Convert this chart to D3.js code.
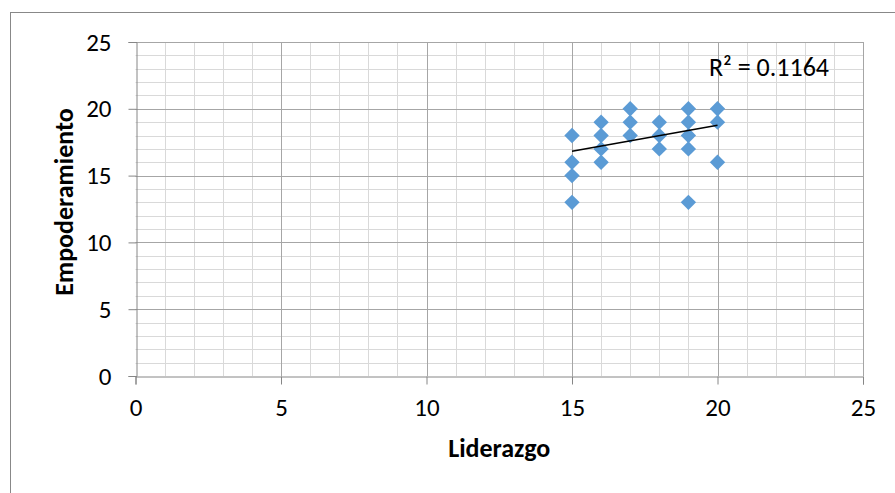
<!DOCTYPE html>
<html>
<head>
<meta charset="utf-8">
<script src="https://cdn.jsdelivr.net/npm/d3@7"></script>
<style>
  body { margin: 0; background: #fff; }
  svg text { font-family: Carlito, "Open Sans", "Liberation Sans", sans-serif; fill: #000; }
</style>
</head>
<body>
<div id="chart"></div>
<script>
// Liderazgo (x) vs Empoderamiento (y)
const liderazgo      = [15, 15, 15, 15, 16, 16, 16, 16, 17, 17, 17, 18, 18, 18, 19, 19, 19, 19, 19, 20, 20, 20];
const empoderamiento = [18, 16, 15, 13, 19, 18, 17, 16, 20, 19, 18, 19, 18, 17, 20, 19, 18, 17, 13, 20, 19, 16];
const trendX = [15, 20];
const trendY = [16.82, 18.77];
const tickValues = [0, 5, 10, 15, 20, 25];
const r2Label = "R² = 0.1164";

const width = 895, height = 493;
const margin = { top: 42, right: 32, bottom: 117, left: 135.5 };

const svg = d3.select("#chart").append("svg")
    .attr("width", width)
    .attr("height", height);

// outer chart border
svg.append("rect")
    .attr("x", 10.5).attr("y", 12.5)
    .attr("width", width + 20).attr("height", height + 20)
    .attr("fill", "none").attr("stroke", "#888").attr("stroke-width", 1);

const x = d3.scaleLinear().domain([0, 25]).range([margin.left, width - margin.right]);
const y = d3.scaleLinear().domain([0, 25]).range([height - margin.bottom, margin.top]);

const minor = d3.range(0, 26).filter(v => v % 5 !== 0);

// minor grid
const grid = svg.append("g");
grid.selectAll(".vminor").data(minor).join("line")
    .attr("x1", d => Math.round(x(d)) + 0.5).attr("x2", d => Math.round(x(d)) + 0.5)
    .attr("y1", y(0)).attr("y2", y(25))
    .attr("stroke", "#d9d9d9");
grid.selectAll(".hminor").data(minor).join("line")
    .attr("y1", d => Math.round(y(d)) + 0.5).attr("y2", d => Math.round(y(d)) + 0.5)
    .attr("x1", x(0)).attr("x2", x(25))
    .attr("stroke", "#d9d9d9");
// major grid
grid.selectAll(".vmajor").data(tickValues.slice(1)).join("line")
    .attr("x1", d => Math.round(x(d)) + 0.5).attr("x2", d => Math.round(x(d)) + 0.5)
    .attr("y1", y(0)).attr("y2", y(25))
    .attr("stroke", "#a6a6a6");
grid.selectAll(".hmajor").data(tickValues.slice(1)).join("line")
    .attr("y1", d => Math.round(y(d)) + 0.5).attr("y2", d => Math.round(y(d)) + 0.5)
    .attr("x1", x(0)).attr("x2", x(25))
    .attr("stroke", "#a6a6a6");

// axes
const xAxis = svg.append("g")
    .attr("transform", `translate(0,${Math.round(y(0)) + 0.5})`)
    .call(d3.axisBottom(x).tickValues(tickValues).tickSize(8).tickPadding(14));
const yAxis = svg.append("g")
    .attr("transform", `translate(${Math.round(x(0)) + 0.5},0)`)
    .call(d3.axisLeft(y).tickValues(tickValues).tickSize(8).tickPadding(17));
[xAxis, yAxis].forEach(a => {
    a.select(".domain").attr("stroke", "#868686");
    a.selectAll(".tick line").attr("stroke", "#868686");
    a.selectAll(".tick text").style("font-size", "25px").attr("fill", "#000");
});
xAxis.selectAll(".tick text").attr("dy", "0.71em");

// points
const pts = liderazgo.map((v, i) => ({ x: v, y: empoderamiento[i] }));
svg.append("g").selectAll("path").data(pts).join("path")
    .attr("d", d3.symbol().type(d3.symbolSquare).size(118))
    .attr("transform", d => `translate(${x(d.x)},${y(d.y)}) rotate(45)`)
    .attr("fill", "#5b9bd5");

// trendline
svg.append("line")
    .attr("x1", x(trendX[0])).attr("y1", y(trendY[0]))
    .attr("x2", x(trendX[1])).attr("y2", y(trendY[1]))
    .attr("stroke", "#000").attr("stroke-width", 1.5);

svg.append("text")
    .attr("x", 709).attr("y", 76)
    .style("font-size", "26px")
    .text(r2Label);

// axis titles
svg.append("text")
    .attr("x", (x(0) + x(25)) / 2).attr("y", 457)
    .attr("text-anchor", "middle")
    .style("font-size", "26px").style("font-weight", "bold")
    .text("Liderazgo");
svg.append("text")
    .attr("transform", "translate(73,202) rotate(-90)")
    .attr("text-anchor", "middle")
    .style("font-size", "26px").style("font-weight", "bold")
    .text("Empoderamiento");
</script>
</body>
</html>
